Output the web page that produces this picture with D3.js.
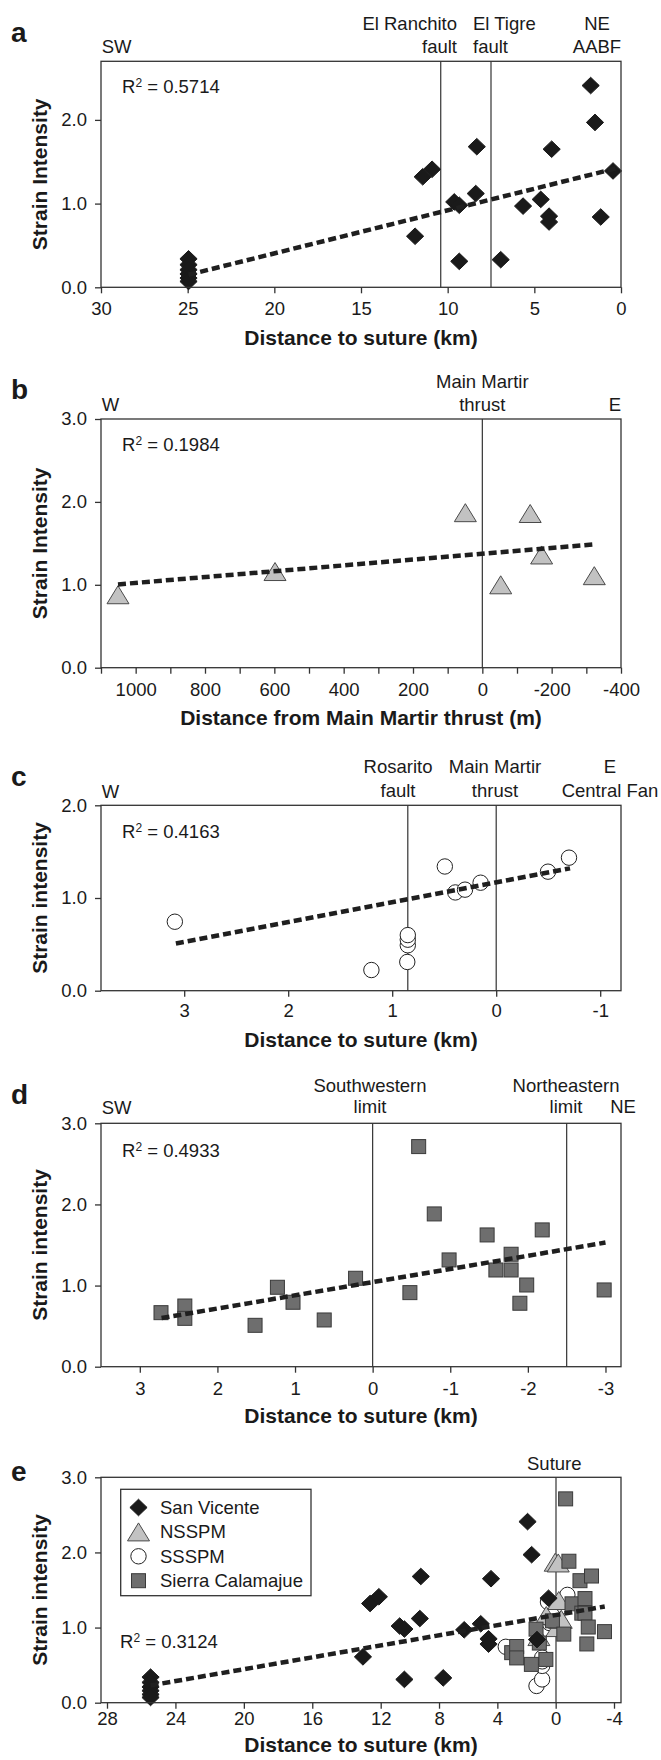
<!DOCTYPE html>
<html>
<head>
<meta charset="utf-8">
<script src="https://cdn.jsdelivr.net/npm/d3@7"></script>
<style>
  body { margin: 0; background: #fff; }
  svg text { font-family: "Liberation Sans", Arial, sans-serif; fill: #1a1a1a; }
</style>
</head>
<body>
<div id="fig"></div>
<script>

// ---- data ----

// San Vicente (panel a), km to suture / strain intensity
var svDist   = [24.95, 24.95, 24.95, 24.95, 24.95, 24.95, 11.88, 11.44, 10.9, 9.62, 9.33, 9.33,
                8.32, 8.38, 6.94, 5.65, 4.63, 4.15, 4.15, 4.0, 1.75, 1.5, 1.17, 0.46];
var svStrain = [0.34, 0.27, 0.21, 0.16, 0.11, 0.07, 0.61, 1.32, 1.41, 1.02, 0.98, 0.31,
                1.68, 1.12, 0.33, 0.97, 1.05, 0.85, 0.78, 1.65, 2.41, 1.97, 0.84, 1.39];
var aFaults  = [10.4, 7.5];
var aTrend   = [[24.95, 0.15], [0.1, 1.43]];

// NSSPM (panel b), metres from Main Martir thrust
var nsDist   = [1051, 598, 49, -138, -53, -171, -323];
var nsStrain = [0.88, 1.16, 1.87, 1.86, 1.0, 1.36, 1.11];
var bFaults  = [0];
var bTrend   = [[1051, 1.005], [-323, 1.488]];

// SSSPM (panel c)
var ssDist   = [3.09, 1.2, 0.855, 0.85, 0.85, 0.85, 0.494, 0.393, 0.3, 0.15, -0.498, -0.7];
var ssStrain = [0.744, 0.223, 0.31, 0.49, 0.55, 0.6, 1.34, 1.06, 1.09, 1.165, 1.284, 1.435];
var cFaults  = [0.85, 0];
var cTrend   = [[3.08, 0.51], [-0.71, 1.32]];

// Sierra Calamajue (panel d)
var scDist   = [2.727, 2.42, 2.42, 1.515, 1.227, 1.026, 0.624, 0.22, -0.48, -0.593, -0.794, -0.985,
                -1.475, -1.588, -1.784, -1.784, -1.985, -1.897, -2.185, -2.983];
var scStrain = [0.666, 0.748, 0.596, 0.51, 0.979, 0.794, 0.576, 1.09, 0.913, 2.713, 1.883, 1.316,
                1.624, 1.192, 1.386, 1.192, 1.007, 0.782, 1.686, 0.946];
var dFaults  = [0, -2.5];
var dTrend   = [[2.72, 0.60], [-3.0, 1.53]];

// all sites (panel e)
var eFaults  = [0];
var eTrend   = [[24.95, 0.23], [-3.0, 1.28]];
// the printed tick labels of panel e are not evenly spaced; where they sit (km at px)
var eTickKm  = [28, 12, -4];
var eTickPx  = [107, 380.7, 614];

var r2Values = ['0.5714', '0.1984', '0.4163', '0.4933', '0.3124'];
var legendNames = ['San Vicente', 'NSSPM', 'SSSPM', 'Sierra Calamajue'];

// ---- drawing ----

var W = 661, H = 1760
var left = 101, right = 621

var svg = d3.select('#fig').append('svg')
    .attr('width', W)
    .attr('height', H)

svg.append('rect').attr('width', W).attr('height', H).attr('fill', '#fff')

var styles = {
    diamond:  { fill: '#1a1a1a', stroke: '#1a1a1a' },
    triangle: { fill: '#c2c2c2', stroke: '#4a4a4a' },
    circle:   { fill: '#ffffff', stroke: '#222' },
    square:   { fill: '#6e6e6e', stroke: '#3a3a3a' }
}

function marker(sel, type) {
    var st = styles[type]
    if (type === 'circle') {
        sel.append('circle').attr('r', 7.7)
    } else if (type === 'square') {
        sel.append('rect').attr('x', -7).attr('y', -7).attr('width', 14).attr('height', 14)
    } else if (type === 'diamond') {
        sel.append('path').attr('d', 'M0,-8.3L8.6,0L0,8.3L-8.6,0Z')
    } else {
        sel.append('path').attr('d', 'M0,-9L11,9L-11,9Z')
    }
    sel.selectAll('*').attr('fill', st.fill).attr('stroke', st.stroke).attr('stroke-width', 1)
}

function num(d) { return String(d) }

function drawPanel(o) {
    var g = svg.append('g')
    var x = d3.scaleLinear().domain(o.xDomain).range([left, right])
    var y = d3.scaleLinear().domain(o.yDomain).range([o.bottom, o.top])
    var xAxisScale = o.axisScale || x

    // panel letter
    g.append('text').attr('x', 11).attr('y', o.letterY)
        .style('font-size', '28px').style('font-weight', 'bold').text(o.letter)

    // x axis
    var xa = g.append('g')
        .attr('transform', 'translate(0,' + o.bottom + ')')
        .call(d3.axisBottom(xAxisScale).tickValues(o.xTicks).tickSize(6).tickFormat(o.xFormat || num))
    xa.select('.domain').remove()
    xa.selectAll('line').attr('stroke', '#333').attr('stroke-width', 1.3)
    xa.selectAll('text').attr('y', o.xLabelOff).attr('dy', 0)
        .style('font-size', '18.5px').attr('fill', '#1a1a1a')

    // y axis
    var ya = g.append('g')
        .attr('transform', 'translate(' + left + ',0)')
        .call(d3.axisLeft(y).tickValues(o.yTicks).tickSize(6).tickPadding(8).tickFormat(d3.format('.1f')))
    ya.select('.domain').remove()
    ya.selectAll('line').attr('stroke', '#333').attr('stroke-width', 1.3)
    ya.selectAll('text').style('font-size', '18.5px').attr('fill', '#1a1a1a')

    // titles
    g.append('text').attr('x', (left + right) / 2).attr('y', o.xTitleY)
        .attr('text-anchor', 'middle').style('font-size', '21px').style('font-weight', 'bold')
        .text(o.xTitle)
    g.append('text')
        .attr('transform', 'translate(46.5,' + ((o.top + o.bottom) / 2) + ') rotate(-90)')
        .attr('text-anchor', 'middle').style('font-size', '21px').style('font-weight', 'bold')
        .text(o.yTitle)

    // fault / boundary lines
    g.selectAll('.fault').data(o.faults).enter().append('line')
        .attr('x1', function (d) { return x(d) }).attr('x2', function (d) { return x(d) })
        .attr('y1', o.top).attr('y2', o.bottom)
        .attr('stroke', '#333').attr('stroke-width', 1.2)

    // header labels
    o.headers.forEach(function (h) {
        h.lines.forEach(function (t, i) {
            g.append('text').attr('x', h.x).attr('y', h.y[i])
                .attr('text-anchor', h.anchor).style('font-size', '18.5px').text(t)
        })
    })

    // R squared
    var r2 = g.append('text').attr('x', o.r2X).attr('y', o.r2Y).style('font-size', '18.5px')
    r2.append('tspan').text('R')
    r2.append('tspan').attr('dy', -6).style('font-size', '12px').text('2')
    r2.append('tspan').attr('dy', 6).text(' = ' + o.r2)

    // points
    o.series.forEach(function (s) {
        var pts = s.xs.map(function (v, i) { return [v * (s.scale || 1), s.ys[i]] })
        g.selectAll(null).data(pts).enter().append('g')
            .attr('transform', function (d) { return 'translate(' + x(d[0]) + ',' + y(d[1]) + ')' })
            .each(function () { marker(d3.select(this), s.type) })
    })

    // trend line
    g.append('path').datum(o.trend)
        .attr('d', d3.line().x(function (d) { return x(d[0]) }).y(function (d) { return y(d[1]) }))
        .attr('fill', 'none').attr('stroke', '#1f1f1f').attr('stroke-width', 4.5)
        .attr('stroke-dasharray', '8,4')

    // frame
    g.append('rect').attr('x', left).attr('y', o.top)
        .attr('width', right - left).attr('height', o.bottom - o.top)
        .attr('fill', 'none').attr('stroke', '#333').attr('stroke-width', 1.3)

    return g
}

var panels = [
    { letter: 'a', letterY: 42, top: 61.3, bottom: 287.3,
      xDomain: [30, 0], yDomain: [0, 2.7], xTicks: [30, 25, 20, 15, 10, 5, 0], yTicks: [0, 1, 2],
      xLabelOff: 27.7, xTitle: 'Distance to suture (km)', xTitleY: 345, yTitle: 'Strain Intensity',
      r2: r2Values[0], r2X: 122, r2Y: 93.3, faults: aFaults, trend: aTrend,
      headers: [
          { lines: ['SW'], x: 101.7, anchor: 'start', y: [53.3] },
          { lines: ['El Ranchito', 'fault'], x: 457, anchor: 'end', y: [30, 53.3] },
          { lines: ['El Tigre', 'fault'], x: 473, anchor: 'start', y: [30, 53.3] },
          { lines: ['NE', 'AABF'], x: 597, anchor: 'middle', y: [30, 53.3] }
      ],
      series: [{ type: 'diamond', xs: svDist, ys: svStrain }] },
    { letter: 'b', letterY: 399, top: 419, bottom: 667.7,
      xDomain: [1100, -400], yDomain: [0, 3], xTicks: d3.range(1100, -401, -100), yTicks: [0, 1, 2, 3],
      xFormat: function (d) { return d % 200 === 0 ? String(d) : '' },
      xLabelOff: 28.3, xTitle: 'Distance from Main Martir thrust (m)', xTitleY: 725, yTitle: 'Strain Intensity',
      r2: r2Values[1], r2X: 122, r2Y: 451, faults: bFaults, trend: bTrend,
      headers: [
          { lines: ['W'], x: 101.7, anchor: 'start', y: [410.7] },
          { lines: ['Main Martir', 'thrust'], x: 482.3, anchor: 'middle', y: [388, 410.7] },
          { lines: ['E'], x: 621, anchor: 'end', y: [410.7] }
      ],
      series: [{ type: 'triangle', xs: nsDist, ys: nsStrain }] },
    { letter: 'c', letterY: 785.5, top: 805.3, bottom: 990.7,
      xDomain: [3.8, -1.2], yDomain: [0, 2], xTicks: [3, 2, 1, 0, -1], yTicks: [0, 1, 2],
      xLabelOff: 26.3, xTitle: 'Distance to suture (km)', xTitleY: 1047, yTitle: 'Strain intensity',
      r2: r2Values[2], r2X: 122, r2Y: 837.7, faults: cFaults, trend: cTrend,
      headers: [
          { lines: ['W'], x: 101.7, anchor: 'start', y: [798.3] },
          { lines: ['Rosarito', 'fault'], x: 398, anchor: 'middle', y: [773.3, 796.7] },
          { lines: ['Main Martir', 'thrust'], x: 495, anchor: 'middle', y: [773.3, 796.7] },
          { lines: ['E', 'Central Fan'], x: 610, anchor: 'middle', y: [773.3, 796.7] }
      ],
      series: [{ type: 'circle', xs: ssDist, ys: ssStrain }] },
    { letter: 'd', letterY: 1104, top: 1123.3, bottom: 1366.7,
      xDomain: [3.5, -3.2], yDomain: [0, 3], xTicks: [3, 2, 1, 0, -1, -2, -3], yTicks: [0, 1, 2, 3],
      xLabelOff: 28.3, xTitle: 'Distance to suture (km)', xTitleY: 1423, yTitle: 'Strain intensity',
      r2: r2Values[3], r2X: 122, r2Y: 1157, faults: dFaults, trend: dTrend,
      headers: [
          { lines: ['SW'], x: 101.7, anchor: 'start', y: [1114] },
          { lines: ['Southwestern', 'limit'], x: 370, anchor: 'middle', y: [1091.7, 1113.3] },
          { lines: ['Northeastern', 'limit'], x: 566, anchor: 'middle', y: [1091.7, 1113.3] },
          { lines: ['NE'], x: 623, anchor: 'middle', y: [1113.3] }
      ],
      series: [{ type: 'square', xs: scDist, ys: scStrain }] },
    { letter: 'e', letterY: 1480.5, top: 1477.3, bottom: 1702.7,
      xDomain: [28, -4], yDomain: [0, 3], xTicks: [28, 24, 20, 16, 12, 8, 4, 0, -4], yTicks: [0, 1, 2, 3],
      axisScale: d3.scaleLinear().domain(eTickKm).range(eTickPx),
      xLabelOff: 22.3, xTitle: 'Distance to suture (km)', xTitleY: 1752, yTitle: 'Strain intensity',
      r2: r2Values[4], r2X: 120, r2Y: 1647.7, faults: eFaults, trend: eTrend,
      headers: [
          { lines: ['Suture'], x: 554.3, anchor: 'middle', y: [1469.5] }
      ],
      series: [
          { type: 'circle', xs: ssDist, ys: ssStrain },
          { type: 'triangle', xs: nsDist, ys: nsStrain, scale: 0.001 },
          { type: 'square', xs: scDist, ys: scStrain },
          { type: 'diamond', xs: svDist, ys: svStrain }
      ] }
]

var gs = panels.map(drawPanel)

// legend for panel e
var lg = gs[4].append('g')
lg.append('rect').attr('x', 120.7).attr('y', 1489.3).attr('width', 190.3).attr('height', 106.4)
    .attr('fill', '#fff').attr('stroke', '#333').attr('stroke-width', 1.3)
var legTypes = ['diamond', 'triangle', 'circle', 'square']
legendNames.forEach(function (name, i) {
    var cy = 1507.5 + i * 24.4
    var m = lg.append('g').attr('transform', 'translate(138.5,' + cy + ')')
    marker(m, legTypes[i])
    lg.append('text').attr('x', 160).attr('y', cy + 6.5).style('font-size', '18.5px').text(name)
})

</script>
</body>
</html>
